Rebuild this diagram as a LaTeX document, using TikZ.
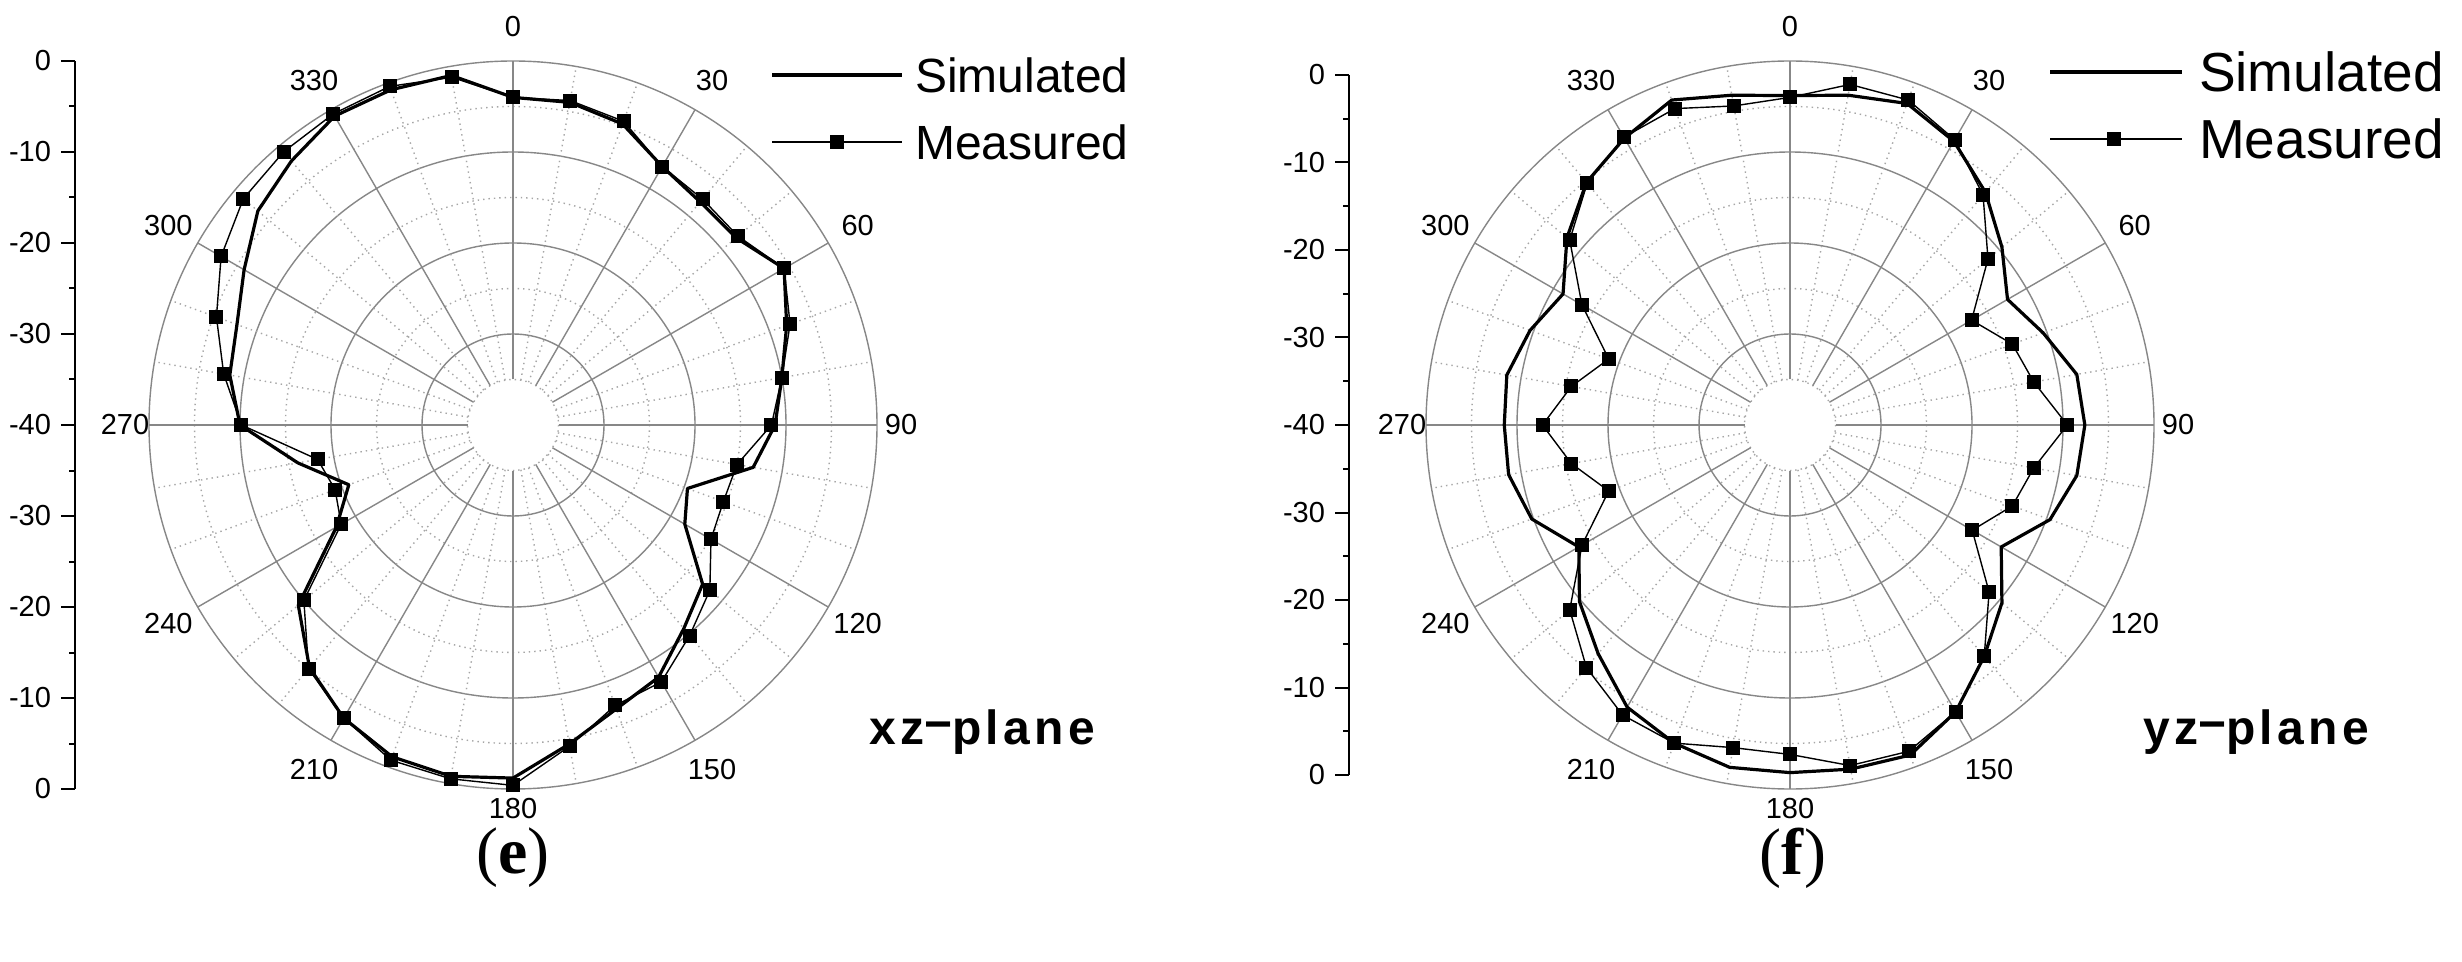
\documentclass[tikz,border=0pt]{standalone}
\usepackage{fontspec}
\setmainfont{Liberation Serif}
\setsansfont{Liberation Sans}
\begin{document}
\begin{tikzpicture}[x=0.5pt,y=-0.5pt,
  gs/.style={draw=black!47,line width=0.7pt},
  gd/.style={draw=black!35,line width=0.7pt,dotted},
  sim/.style={draw=black,line width=1.6pt,line join=round},
  mea/.style={draw=black,line width=0.7pt,line join=round},
  sq/.style={fill=black,inner sep=0pt,minimum size=7pt,draw=none},
  albl/.style={font=\sffamily\fontsize{14.5}{16}\selectfont},
  ylbl/.style={font=\sffamily\fontsize{14.5}{16}\selectfont,anchor=east},
  leg/.style={font=\sffamily\fontsize{27.5}{30}\selectfont,anchor=west},
  legs/.style={font=\sffamily\fontsize{24}{28}\selectfont,anchor=west},
  pl/.style={font=\sffamily\bfseries\fontsize{24}{26}\selectfont\addfontfeature{LetterSpace=9},anchor=west},
  captxt/.style={font=\fontsize{33}{36}\selectfont}]
\useasboundingbox (0,0) rectangle (2462,962);
\newcommand{\polgrid}{%
  \fill[white] (0,0) circle (364);
  \foreach \r in {45.5,136.5,227.5,318.5} \draw[gd] (0,0) circle (\r);
  \foreach \r in {91,182,273,364} \draw[gs] (0,0) circle (\r);
  \foreach \a in {10,20,40,50,70,80,100,110,130,140,160,170,190,200,220,230,250,260,280,290,310,320,340,350}
    \draw[gd] ({45.5*sin(\a)},{-45.5*cos(\a)}) -- ({364*sin(\a)},{-364*cos(\a)});
  \foreach \a in {0,30,...,330}
    \draw[gs] ({45.5*sin(\a)},{-45.5*cos(\a)}) -- ({364*sin(\a)},{-364*cos(\a)});
  \foreach \a in {0,30,60,120,150,210,240,300,330}
    \node[albl] (lb\a) at ({398*sin(\a)},{-398*cos(\a)}) {\a};
  \node[albl] (lb180) at (0,384) {180};
  \node[albl] (lb90) at (388,0) {90};
  \node[albl] (lb270) at (-388,0) {270};
}
% ---------- left plot (e)
\begin{scope}[shift={(513,425)}]
  \polgrid
  \draw[sim] (0,{-0.90*364}) \foreach \a/\v in {10/0.90,20/0.88,30/0.82,40/0.80,50/0.80,60/0.86,70/0.80,80/0.75,90/0.72,100/0.67,110/0.51,120/0.545,130/0.68,140/0.73,150/0.80,160/0.83,170/0.89,180/0.97,190/0.98,200/0.97,210/0.93,220/0.87,230/0.77,240/0.56,250/0.48,260/0.60,270/0.75,280/0.79,290/0.807,300/0.853,310/0.915,320/0.947,330/0.98,340/0.98,350/0.975} { -- ({\v*364*sin(\a)},{-\v*364*cos(\a)}) } -- cycle;
  \def\LM{0/0.90,10/0.905,20/0.888,30/0.82,40/0.81,50/0.807,60/0.86,70/0.81,80/0.75,90/0.71,100/0.625,110/0.615,120/0.628,130/0.706,140/0.755,150/0.815,160/0.82,170/0.896,180/0.99,190/0.987,200/0.98,210/0.93,220/0.874,230/0.75,240/0.545,250/0.52,260/0.545,270/0.746,280/0.807,290/0.867,300/0.926,310/0.967,320/0.98,330/0.987,340/0.99,350/0.97}
  \draw[mea] (0,{-0.90*364}) \foreach \a/\v in \LM { -- ({\v*364*sin(\a)},{-\v*364*cos(\a)}) } -- cycle;
  \foreach \a/\v in \LM \node[sq] (lm\a) at ({\v*364*sin(\a)},{-\v*364*cos(\a)}) {};
\end{scope}
% left axis
\draw[line width=1pt] (75,61) -- (75,789);
\foreach \k in {0,...,16} {
  \pgfmathsetmacro{\yy}{61+\k*45.5}
  \ifodd\k \draw[line width=1pt] (69,\yy) -- (75,\yy); \else \draw[line width=1pt] (61,\yy) -- (75,\yy); \fi
}
\foreach \k/\t in {0/0,2/-10,4/-20,6/-30,8/-40,10/-30,12/-20,14/-10,16/0}
  \node[ylbl] (ly\k) at (58,{61+\k*45.5}) {\t};
% left legend
\coordinate (l1a) at (772,75); \coordinate (l1b) at (902,75);
\coordinate (l2a) at (772,142); \coordinate (l2b) at (902,142);
\draw[sim] (l1a) -- (l1b);
\draw[mea] (l2a) -- (l2b);
\node[sq] (lms) at (837,142) {};
\node[legs] (lt1) at (908,75) {Simulated};
\node[legs] (lt2) at (908,142) {Measured};
\node[pl] (lpl) at (862,732) {xz\raisebox{2pt}{−}plane};
\node[captxt] (le) at (513,858) {(\textbf{e})};
% ---------- right plot (f)
\begin{scope}[shift={(1790,425)}]
  \polgrid
  \draw[sim] (0,{-0.905*364}) \foreach \a/\v in {10/0.92,20/0.94,30/0.90,40/0.835,50/0.76,60/0.69,70/0.74,80/0.80,90/0.81,100/0.80,110/0.76,120/0.67,130/0.76,140/0.83,150/0.91,160/0.965,170/0.96,180/0.955,190/0.955,200/0.93,210/0.895,220/0.82,230/0.755,240/0.67,250/0.755,260/0.785,270/0.785,280/0.79,290/0.76,300/0.72,310/0.80,320/0.87,330/0.91,340/0.95,350/0.92} { -- ({\v*364*sin(\a)},{-\v*364*cos(\a)}) } -- cycle;
  \def\RM{0/0.90,10/0.95,20/0.95,30/0.905,40/0.825,50/0.71,60/0.576,70/0.65,80/0.68,90/0.762,100/0.68,110/0.65,120/0.578,130/0.714,140/0.83,150/0.91,160/0.954,170/0.95,180/0.905,190/0.90,200/0.93,210/0.92,220/0.87,230/0.79,240/0.66,250/0.53,260/0.61,270/0.68,280/0.61,290/0.53,300/0.66,310/0.79,320/0.867,330/0.913,340/0.925,350/0.89}
  \draw[mea] (0,{-0.90*364}) \foreach \a/\v in \RM { -- ({\v*364*sin(\a)},{-\v*364*cos(\a)}) } -- cycle;
  \foreach \a/\v in \RM \node[sq] (rm\a) at ({\v*364*sin(\a)},{-\v*364*cos(\a)}) {};
\end{scope}
% right axis
\draw[line width=1pt] (1349,75) -- (1349,775);
\foreach \k in {0,...,16} {
  \pgfmathsetmacro{\yy}{75+\k*43.75}
  \ifodd\k \draw[line width=1pt] (1343,\yy) -- (1349,\yy); \else \draw[line width=1pt] (1335,\yy) -- (1349,\yy); \fi
}
\foreach \k/\t in {0/0,2/-10,4/-20,6/-30,8/-40,10/-30,12/-20,14/-10,16/0}
  \node[ylbl] (ry\k) at (1332,{75+\k*43.75}) {\t};
% right legend
\coordinate (r1a) at (2050,72); \coordinate (r1b) at (2182,72);
\coordinate (r2a) at (2050,139); \coordinate (r2b) at (2182,139);
\draw[sim] (r1a) -- (r1b);
\draw[mea] (r2a) -- (r2b);
\node[sq] (rms) at (2114,139) {};
\node[leg] (rt1) at (2192,72) {Simulated};
\node[leg] (rt2) at (2192,139) {Measured};
\node[pl] (rpl) at (2136,732) {yz\raisebox{2pt}{−}plane};
\node[captxt] (rf) at (1793,858) {(\textbf{f})};
\end{tikzpicture}
\end{document}
